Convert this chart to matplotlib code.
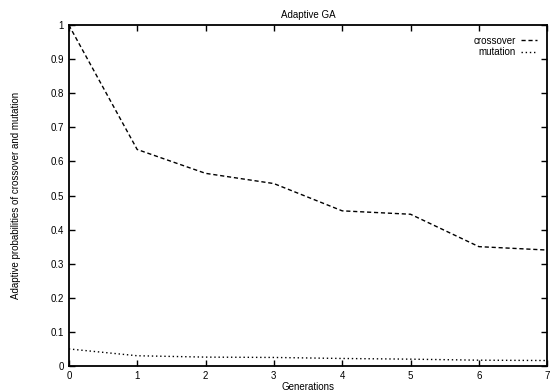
import matplotlib
matplotlib.use("Agg")
import matplotlib.pyplot as plt

generations = [0, 1, 2, 3, 4, 5, 6, 7]
crossover = [1.0, 0.635, 0.565, 0.535, 0.455, 0.445, 0.35, 0.34]
mutation = [0.05, 0.03, 0.026, 0.025, 0.022, 0.02, 0.017, 0.016]

plt.rcParams['font.family'] = ['Liberation Sans', 'DejaVu Sans']

fig = plt.figure(figsize=(5.55, 3.91), dpi=100)
ax = fig.add_axes([0.124, 0.064, 0.862, 0.872])

ax.plot(generations, crossover, color='black', linestyle=(0, (3, 2)), linewidth=1.0, label='crossover')
ax.plot(generations, mutation, color='black', linestyle=(0, (1, 2)), linewidth=1.0, label='mutation')

ax.set_xlim(0, 7)
ax.set_ylim(0, 1)
ax.set_xticks(range(8))
ax.set_yticks([i / 10 for i in range(11)])
ax.set_yticklabels(['0', '0.1', '0.2', '0.3', '0.4', '0.5', '0.6', '0.7', '0.8', '0.9', '1'])
ax.tick_params(direction='in', top=True, right=True, labelsize=7, length=4, width=1)
for s in ax.spines.values():
    s.set_linewidth(1.3)

ax.set_title('Adaptive GA', fontsize=7, pad=5)
ax.set_xlabel('Generations', fontsize=7, labelpad=1)
ax.set_ylabel('Adaptive probabilities of crossover and mutation', fontsize=7, labelpad=21)

leg = ax.legend(loc='upper right', frameon=False, markerfirst=False, fontsize=7,
                handlelength=1.6, handletextpad=0.5, labelspacing=0.15,
                borderaxespad=0.9, borderpad=0.2)

fig.savefig('out.png', dpi=100)
plt.close(fig)
